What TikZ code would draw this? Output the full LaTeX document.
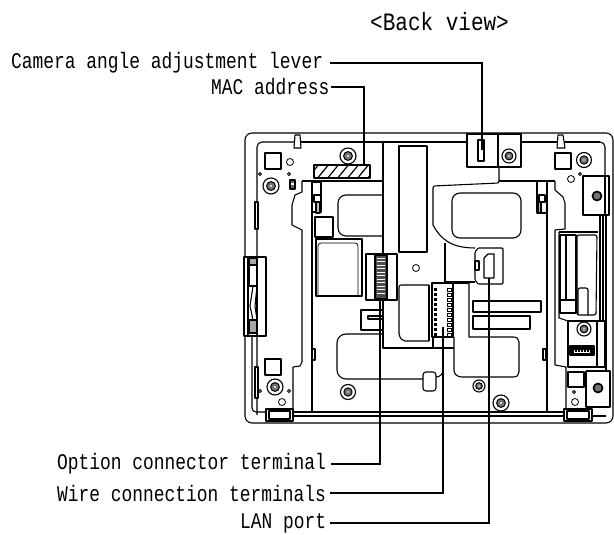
\documentclass[tikz,border=0pt]{standalone}
\usepackage{fontspec}
\newfontfamily\lblfont[FakeStretch=0.8]{Liberation Mono}
\newfontfamily\ttlfont[FakeStretch=0.84]{Liberation Mono}
\tikzset{
  part/.style={draw=black,line width=1.1pt,line join=round},
  heavy/.style={draw=black,line width=1.7pt,line join=round},
  thin part/.style={draw=black,line width=.8pt},
  lead/.style={draw=black,line width=1.2pt},
  lbl/.style={anchor=west,inner sep=0pt,font=\lblfont\fontsize{22.4}{24}\selectfont},
  ttl/.style={anchor=west,inner sep=0pt,font=\ttlfont\fontsize{25}{27}\selectfont}
}
\newcommand{\myscrew}[3]{%
  \draw[part,fill=white] (#1,#2) circle (#3);
  \draw[draw=black,line width=1pt,fill=black!55] (#1,#2) circle (#3*0.55);
  \fill[white] (#1,#2) circle (#3*0.13);}
\newcommand{\mysmall}[3]{\draw[thin part,fill=white] (#1,#2) circle (#3);}
\begin{document}
\begin{tikzpicture}[x=1pt,y=-1pt]
\useasboundingbox (0,0) rectangle (614,535);
\fill[white] (0,0) rectangle (614,535);
% outer case
\draw[part,rounded corners=7pt] (245,133) rectangle (613,423);
\draw[part,rounded corners=5pt] (300,142) -- (257,142) -- (257,415);
\draw[part] (300,142) -- (600,142);
\draw[part,rounded corners=5pt] (590,142) -- (605,142) -- (605,180);
\draw[part,rounded corners=4pt] (252,257) -- (252,412) -- (268,412);
\draw[part] (293,412) -- (564,412);
\draw[part] (293,416) -- (564,416);
\draw[part] (592,416) -- (606,416);
% top tabs
\draw[part,fill=white] (295,135) -- (294,148) -- (301,148) -- (300,135) -- cycle;
\draw[part,fill=white] (558,135) -- (557,148) -- (565,148) -- (563,135) -- cycle;
% top-left details
\draw[part] (265,153) rectangle (281,169);
\mysmall{290}{162}{3.5}
\mysmall{260}{174}{1.5}
\mysmall{289}{174}{1.5}
\myscrew{271}{186}{8}
\myscrew{348}{156}{8}
\draw[part,fill=black!60] (290,180) rectangle (295,189);
\fill[white] (291,183) rectangle (294,185);
\draw[part,fill=white] (255,202) rectangle (258,229);
% inner board left outline
\draw[part] (302,181) -- (383,181);
\draw[part] (302,181) -- (302,192) -- (295,195) -- (292,205) -- (292,225) -- (302,230) -- (302,362) -- (300,366) -- (293,367) -- (293,410);
\draw[part] (312,181) -- (312,412);
\draw[part,fill=white] (312,182) rectangle (321,212);
\draw[part,fill=white] (314,195) rectangle (321,202);
\draw[part,fill=black!25] (316,202) rectangle (320,213);
\draw[part,fill=white] (312,349) rectangle (315,360);
% centre vertical
\draw[part] (383,142) -- (383,348) -- (433,348);
\draw[part] (399,146) rectangle (427,252);
% MAC label plate
\begin{scope}
\clip (314,165) rectangle (370,178);
\foreach \k in {0,10,...,70}{\draw[line width=1.2pt] (306+\k,180) -- (320+\k,163);}
\end{scope}
\draw[part] (314,165) rectangle (370,178);
% left inner blocks
\draw[part,rounded corners=8pt] (383,195) -- (338,195) -- (338,236) -- (383,236);
\draw[part] (315,217) rectangle (333,237);
\draw[part] (316,239) rectangle (362,296);
\draw[thin part,rounded corners=3pt] (318,296) -- (318,243) -- (358,243) -- (358,296);
% option connector
\draw[part,fill=white] (366,254) rectangle (397,300);
\draw[heavy,fill=black!70] (375,255) rectangle (387,299);
\foreach \k in {258,261.5,...,296}{\draw[white,line width=.5pt] (377,\k) -- (385,\k);}
\mysmall{416}{268}{3.5}
\draw[part,rounded corners=2pt] (429,285) -- (399,285) -- (399,336) -- (403,341) -- (429,341);
\draw[part] (429,285) -- (429,341);
% small connector
\draw[part] (383,310) -- (361,310) -- (361,330) -- (383,330);
\draw[part] (383,316) -- (368,316) -- (368,319) -- (383,319);
% lower open rounded rect
\draw[part,rounded corners=9pt] (383,334) -- (337,334) -- (337,379) -- (423,379);
\draw[part,rounded corners=3pt] (423,372) rectangle (436,391);
\draw[part] (436,377) .. controls (440,377) and (443,374) .. (443,370) -- (443,348);
% left lower details
\draw[part] (265,359) rectangle (281,375);
\myscrew{275}{387}{8}
\myscrew{348}{392}{7.5}
\mysmall{260}{391}{1.5}
\mysmall{289}{391}{1.5}
\mysmall{282}{402}{3.5}
\draw[part,fill=white] (255,367) rectangle (258,398);
% left latch
\draw[part,fill=white] (244,257) rectangle (266,336);
\draw[part] (248,257) -- (248,336);
\draw[part] (257,257) -- (257,336);
\draw[part,fill=black!35] (249,258) rectangle (257,265);
\draw[part] (249,265) rectangle (257,286);
\draw[part,fill=black!35] (249,320) rectangle (257,333);
\draw[part] (253,286) -- (250,306) -- (253,320);
\draw[part] (257,286) -- (255,306) -- (257,320);
% bottom tabs
\draw[heavy,fill=white] (266,409) rectangle (293,421);
\draw[part] (269,411) rectangle (290,419);
\draw[heavy,fill=white] (564,409) rectangle (592,421);
\draw[part] (567,411) rectangle (589,419);
% top centre blocks
\draw[part,rounded corners=2pt] (499,167) -- (499,183) -- (433,186) -- (433,225);
\draw[part] (433,225) .. controls (440,238) and (450,248) .. (475,248);
\draw[part,fill=white] (467,134) rectangle (498,167);
\draw[part,fill=white] (498,134) rectangle (521,167);
\myscrew{509}{156}{7}
\draw[heavy,fill=white] (478,140) rectangle (484,161);
\draw[part,rounded corners=8pt] (452,193) rectangle (521,238);
% right inner board
\draw[part] (499,181) -- (555,181);
\draw[part] (547,181) -- (547,412);
\draw[part,fill=white] (537,181) rectangle (547,213);
\draw[part,fill=white] (539,195) rectangle (545,202);
\draw[part,fill=black!25] (538,202) rectangle (541,213);
\draw[part] (555,181) -- (555,190) -- (563,197) -- (565,203) -- (565,229) -- (555,230) -- (555,365) -- (566,367) -- (566,409);
\draw[part,fill=white] (543,349) rectangle (546,360);
% top-right details
\draw[part] (555,153) rectangle (571,169);
\myscrew{584}{160}{7.5}
\mysmall{571}{179}{3.5}
\mysmall{580}{174}{1.5}
% right side slots
\draw[part] (559,232) -- (559,318) -- (568,321);
\draw[part] (559,232) -- (598,232);
\draw[part] (560,235) -- (560,313) -- (576,313) -- (576,235) -- cycle;
\draw[part] (566,235) -- (566,300);
\draw[part] (560,300) -- (576,300);
\draw[part,rounded corners=2pt] (577,235) -- (577,315) -- (596,315) -- (597,235) -- cycle;
\draw[part,rounded corners=2pt] (578,315) -- (578,288) -- (588,288) -- (588,315);
\draw[part] (600,215) -- (600,321);
\draw[part] (603,215) -- (603,367);
\draw[part] (606,215) -- (606,372);
% right block upper
\draw[part,fill=white] (583,176) -- (609,176) -- (609,215) -- (583,215) -- cycle;
\draw[part] (605,176) -- (605,215);
\draw[heavy,fill=black!55] (597,196) circle (4.5);
% lower right module
\draw[part,fill=white] (568,321) rectangle (605,367);
\draw[part] (597,321) -- (597,367);
\myscrew{584}{329}{7}
\draw[heavy,fill=black] (570,346) rectangle (594,355);
\foreach \k in {574,577,...,589}{\fill[white] (\k,350) rectangle (\k+1.2,352);}
\draw[white,line width=.8pt] (574,352) -- (590,352);
\draw[part] (568,372) rectangle (584,387);
\mysmall{574}{392}{1.5}
\mysmall{575}{402}{3.5}
\draw[part] (586,371) -- (610,371) -- (610,407) -- (586,407) -- (586,371);
\draw[heavy,fill=black!55] (598,388) circle (4.5);
% LAN port and wiring block
\draw[part] (445,243) -- (445,282);
\draw[heavy] (445,282) -- (475,282);
\draw[part,fill=white,rounded corners=1pt] (478,248) -- (503,248) -- (503,284) -- (478,284) -- (475,280) -- (475,252) -- cycle;
\draw[part] (475,261) rectangle (479,270);
\draw[part] (484,278) -- (484,258) -- (488,254) -- (494,254) -- (494,278) -- cycle;
% wire terminals
\draw[part] (469,283) -- (469,337) -- (513,337) .. controls (517,337) and (519,339) .. (519,342) -- (519,372) .. controls (519,375) and (517,377) .. (513,377) -- (462,377) .. controls (457,377) and (454,374) .. (454,370) -- (454,337);
\draw[part] (445,283) -- (469,283);
\draw[heavy,fill=white] (432,283) rectangle (453,337);
\draw[part] (433,337) -- (433,348) -- (454,348);
\foreach \k in {288,293,...,333}{
  \fill[black] (433.5,\k) rectangle (437,\k+3);
  \draw[line width=.8pt,fill=white] (447.5,\k) rectangle (451,\k+3);
}
% bars
\draw[part] (473,301) rectangle (541,312);
\draw[part] (473,316) rectangle (530,329);
\myscrew{479}{386}{6}
\myscrew{501}{403}{8}
% labels
\node[ttl] (title) at (370,22) {<Back view>};
\node[lbl] (cam) at (11,63) {Camera angle adjustment lever};
\node[lbl] (mac) at (211,87) {MAC address};
\node[lbl] (opt) at (57,464) {Option connector terminal};
\node[lbl] (wir) at (57,493) {Wire connection terminals};
\node[lbl] (lan) at (240,523) {LAN port};
% leader targets
\coordinate (lever) at (482,150);
\coordinate (plate) at (364,165);
\coordinate (optc) at (380,299);
\coordinate (wirc) at (443,327);
\coordinate (lanc) at (489,278);
\draw[lead] ([xshift=7pt]cam.east) -| (lever);
\draw[lead] ([xshift=1pt]mac.east) -| (plate);
\draw[lead] ([xshift=5pt]opt.east) -| (optc);
\draw[lead] ([xshift=4pt]wir.east) -| (wirc);
\draw[lead] ([xshift=4pt]lan.east) -| (lanc);
\end{tikzpicture}
\end{document}
